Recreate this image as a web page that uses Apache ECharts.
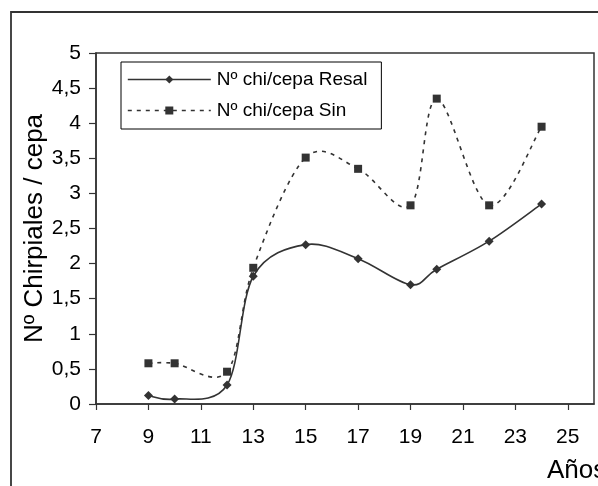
<!DOCTYPE html>
<html>
<head>
<meta charset="utf-8">
<script src="https://cdn.jsdelivr.net/npm/echarts@6/dist/echarts.min.js"></script>
<style>
  html, body { margin: 0; padding: 0; background: #fff; }
  #chart { width: 598px; height: 486px; }
</style>
</head>
<body>
<div id="chart"></div>
<script>
// Years of the stump (x) and mean number of shoots per stump for each treatment
const years = [9, 10, 12, 13, 15, 17, 19, 20, 22, 24];
const resal = [0.12, 0.07, 0.27, 1.82, 2.27, 2.07, 1.70, 1.92, 2.32, 2.85];
const sin   = [0.58, 0.58, 0.46, 1.94, 3.51, 3.35, 2.83, 4.35, 2.83, 3.95];
const xTicks = [7, 9, 11, 13, 15, 17, 19, 21, 23, 25];
const seriesNames = ['Nº chi/cepa Resal', 'Nº chi/cepa Sin'];

const FONT = '"Liberation Sans", Arial, sans-serif';
const INK = '#333333';
const DASH = [4, 5];

const pairs = (ys) => years.map((x, i) => [x, ys[i]]);

// Cardinal (Catmull-Rom style) spline segment i -> i+1, computed in pixel space
// from the axis-projected points, so the curve may overshoot between points.
function splineSegment(vals, dash) {
  return function (params, api) {
    const i = params.dataIndex;
    const n = years.length;
    if (i >= n - 1) return null;
    const P = (k) => api.coord([years[Math.max(0, Math.min(n - 1, k))], vals[Math.max(0, Math.min(n - 1, k))]]);
    const p0 = P(i - 1), p1 = P(i), p2 = P(i + 1), p3 = P(i + 2);
    const t = 1 / 6;
    return {
      type: 'bezierCurve',
      shape: {
        x1: p1[0], y1: p1[1],
        cpx1: p1[0] + (p2[0] - p0[0]) * t, cpy1: p1[1] + (p2[1] - p0[1]) * t,
        cpx2: p2[0] - (p3[0] - p1[0]) * t, cpy2: p2[1] - (p3[1] - p1[1]) * t,
        x2: p2[0], y2: p2[1]
      },
      style: { fill: null, stroke: INK, lineWidth: 1.6, lineDash: dash || null },
      silent: true
    };
  };
}

const chart = echarts.init(document.getElementById('chart'), null, { renderer: 'canvas' });

chart.setOption({
  animation: false,
  backgroundColor: '#ffffff',
  textStyle: { fontFamily: FONT, color: '#000' },
  grid: {
    left: 96, top: 53, right: 4, bottom: 82,
    show: true, borderColor: INK, borderWidth: 1.5, backgroundColor: 'transparent'
  },
  legend: {
    orient: 'vertical',
    left: 121, top: 62,
    padding: [8, 14, 9, 6],
    itemGap: 12,
    itemWidth: 83,
    itemHeight: 10,
    borderColor: '#000', borderWidth: 1,
    backgroundColor: '#fff',
    textStyle: { fontFamily: FONT, fontSize: 19, color: '#000', padding: [0, 0, 0, 1] },
    data: [
      { name: seriesNames[0], lineStyle: { opacity: 1, color: INK, width: 1.6, type: 'solid' } },
      { name: seriesNames[1], lineStyle: { opacity: 1, color: INK, width: 1.6, type: DASH } }
    ]
  },
  xAxis: {
    type: 'value',
    min: 7, max: 26,
    axisLine: { lineStyle: { color: INK, width: 1.5 } },
    axisTick: { show: true, length: 6, lineStyle: { color: INK, width: 1.2 }, customValues: xTicks },
    axisLabel: { fontFamily: FONT, fontSize: 21, color: '#000', margin: 23, customValues: xTicks },
    splitLine: { show: false }
  },
  yAxis: {
    type: 'value',
    min: 0, max: 5, interval: 0.5,
    name: 'Nº Chirpiales / cepa',
    nameLocation: 'middle',
    nameGap: 48,
    nameMoveOverlap: false,
    nameTextStyle: { fontFamily: FONT, fontSize: 26, color: '#000' },
    axisLine: { show: true, lineStyle: { color: INK, width: 1.5 } },
    axisTick: { show: true, length: 7, lineStyle: { color: INK, width: 1.2 } },
    axisLabel: {
      fontFamily: FONT, fontSize: 21, color: '#000', margin: 15,
      formatter: (v) => String(v).replace('.', ',')
    },
    splitLine: { show: false }
  },
  series: [
    // smoothed curves
    {
      type: 'custom',
      data: pairs(resal),
      encode: { x: 0, y: 1 },
      renderItem: splineSegment(resal, null),
      z: 2
    },
    {
      type: 'custom',
      data: pairs(sin),
      encode: { x: 0, y: 1 },
      renderItem: splineSegment(sin, DASH),
      z: 2
    },
    // markers (the connecting curve is drawn by the custom series above)
    {
      name: seriesNames[0],
      type: 'line',
      data: pairs(resal),
      symbol: 'diamond',
      symbolSize: 9,
      itemStyle: { color: INK },
      lineStyle: { color: INK, width: 1.6, opacity: 0 },
      z: 3
    },
    {
      name: seriesNames[1],
      type: 'line',
      data: pairs(sin),
      symbol: 'rect',
      symbolSize: 8,
      itemStyle: { color: INK },
      lineStyle: { color: INK, width: 1.6, type: DASH, opacity: 0 },
      z: 3
    }
  ],
  graphic: [
    {
      // outer frame of the figure (extends past the right and bottom edges)
      type: 'rect',
      shape: { x: 11, y: 12, width: 700, height: 600 },
      style: { fill: 'none', stroke: INK, lineWidth: 1.8 },
      silent: true
    },
    {
      type: 'text',
      left: 547, top: 458,
      style: { text: 'Años', font: '26px ' + FONT, fill: '#000' }
    }
  ]
});
</script>
</body>
</html>
